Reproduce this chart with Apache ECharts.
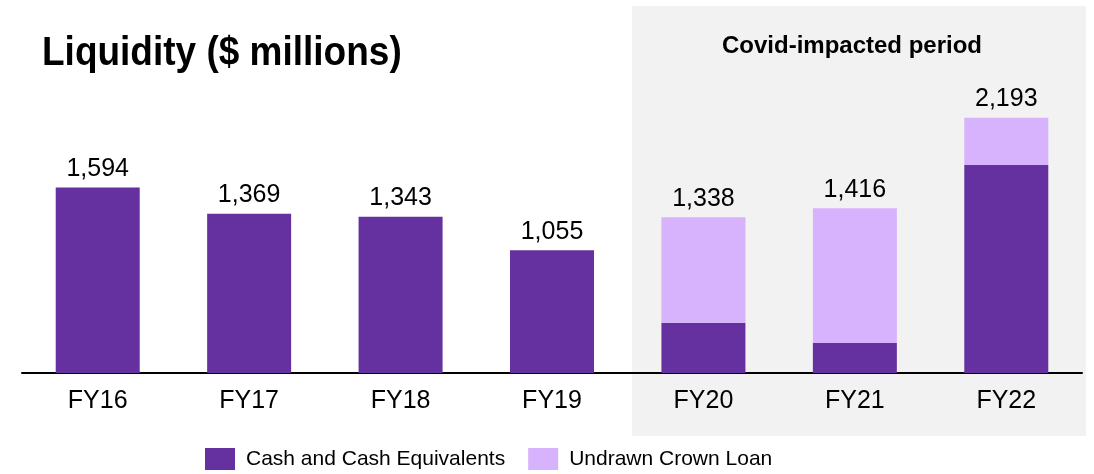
<!DOCTYPE html>
<html>
<head>
<meta charset="utf-8">
<script src="https://cdn.jsdelivr.net/npm/echarts@6/dist/echarts.min.js"></script>
<style>
html,body{margin:0;padding:0;background:#fff;}
#chart{width:1094px;height:474px;}
</style>
</head>
<body>
<div id="chart"></div>
<script>
const categories = ['FY16', 'FY17', 'FY18', 'FY19', 'FY20', 'FY21', 'FY22'];
const cashValues = [1594, 1369, 1343, 1055, 432, 258, 1787];
const undrawnValues = [null, null, null, null, 906, 1158, 406];
const seriesNames = ['Cash and Cash Equivalents', 'Undrawn Crown Loan'];
const chartTitle = 'Liquidity ($ millions)';
const periodLabel = 'Covid-impacted period';

const fmt = v => v.toLocaleString('en-US');
const totalAt = i => cashValues[i] + (undrawnValues[i] || 0);

const FONT = '"Liberation Sans", Arial, sans-serif';
const chart = echarts.init(document.getElementById('chart'), null, {renderer: 'canvas'});

chart.setOption({
  animation: false,
  backgroundColor: '#ffffff',
  textStyle: {fontFamily: FONT},
  graphic: [
    {type: 'rect', z: -10, shape: {x: 632, y: 6, width: 454, height: 430}, style: {fill: '#f2f2f2'}},
    {type: 'text', z: 10, x: 42, y: 54, scaleY: 1.08,
      style: {text: chartTitle, font: 'bold 37px ' + FONT, fill: '#000', textVerticalAlign: 'middle'}},
    {type: 'text', z: 10, x: 852, y: 46, style: {text: periodLabel, font: 'bold 24px ' + FONT, fill: '#000', textAlign: 'center', textVerticalAlign: 'middle'}}
  ],
  legend: {
    left: 205, top: 448, padding: 0,
    itemWidth: 30, itemHeight: 22, itemGap: 23,
    icon: 'rect',
    textStyle: {fontSize: 21, color: '#000', fontFamily: FONT, padding: [0, 0, 0, 6]},
    data: seriesNames
  },
  grid: {left: 22, right: 12, top: 82, bottom: 101},
  xAxis: {
    type: 'category',
    data: categories,
    axisLine: {lineStyle: {color: '#000', width: 2}},
    axisTick: {show: false},
    axisLabel: {fontSize: 25, color: '#000', margin: 16, fontFamily: FONT}
  },
  yAxis: {
    type: 'value', min: 0, max: 2500,
    show: false,
    splitLine: {show: false}
  },
  series: [
    {
      name: seriesNames[0], type: 'bar', stack: 'liq', barWidth: 84,
      data: cashValues,
      itemStyle: {color: '#6531a0'},
      label: {
        show: true, position: 'top', distance: 6, fontSize: 25, color: '#000', fontFamily: FONT,
        formatter: p => undrawnValues[p.dataIndex] == null ? fmt(totalAt(p.dataIndex)) : ''
      }
    },
    {
      name: seriesNames[1], type: 'bar', stack: 'liq', barWidth: 84,
      data: undrawnValues,
      itemStyle: {color: '#d7b3fd'},
      label: {
        show: true, position: 'top', distance: 6, fontSize: 25, color: '#000', fontFamily: FONT,
        formatter: p => fmt(totalAt(p.dataIndex))
      }
    }
  ]
});
</script>
</body>
</html>
